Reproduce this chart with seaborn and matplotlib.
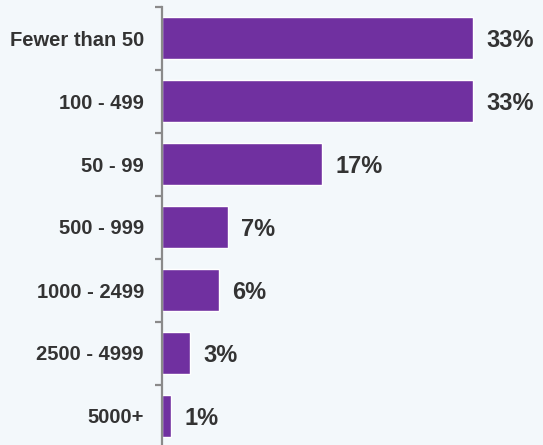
import matplotlib
matplotlib.use("Agg")
import matplotlib.pyplot as plt
import seaborn as sns
import numpy as np
import pandas as pd

categories = ["Fewer than 50", "100 - 499", "50 - 99", "500 - 999",
              "1000 - 2499", "2500 - 4999", "5000+"]
shares = [33, 33, 17, 7, 6, 3, 1]
value_labels = ["33%", "33%", "17%", "7%", "6%", "3%", "1%"]

bg = "#f3f8fb"
bar_color = "#7030a0"
text_color = "#333333"
axis_color = "#8a8a8a"

sns.set_theme(style="white")
plt.rcParams["font.family"] = ["Liberation Sans", "DejaVu Sans"]

df = pd.DataFrame({"category": categories, "share": shares})

fig = plt.figure(figsize=(5.43, 4.45), dpi=100, facecolor=bg)
ax = fig.add_axes([162 / 543, 1 - 447.5 / 445, 377 / 543, 441 / 445])
ax.set_facecolor(bg)

sns.barplot(data=df, x="share", y="category", color=bar_color,
            saturation=1, width=0.66, ax=ax, orient="h")

ax.set_xlim(0, 40)
ax.set_ylim(len(categories) - 0.5, -0.5)
ax.set_xlabel("")
ax.set_ylabel("")
ax.set_xticks([])

for s in ["top", "right", "bottom"]:
    ax.spines[s].set_visible(False)
ax.spines["left"].set_color(axis_color)
ax.spines["left"].set_linewidth(1.6)

# category labels on major ticks, small tick marks at category boundaries
ax.set_yticks(range(len(categories)))
ax.set_yticklabels(categories, fontsize=14.5, fontweight="bold",
                   color=text_color)
ax.tick_params(axis="y", which="major", length=0, pad=13)
ax.set_yticks(np.arange(-0.5, len(categories), 1.0), minor=True)
ax.tick_params(axis="y", which="minor", left=True, length=5, width=1.6,
               color=axis_color, direction="out")

for i, (v, lab) in enumerate(zip(shares, value_labels)):
    ax.annotate(lab, xy=(v, i), xytext=(9.5, -1.5), textcoords="offset points",
                va="center", ha="left", fontsize=17, fontweight="bold",
                color=text_color)

fig.savefig("out.png", dpi=100, facecolor=bg)
